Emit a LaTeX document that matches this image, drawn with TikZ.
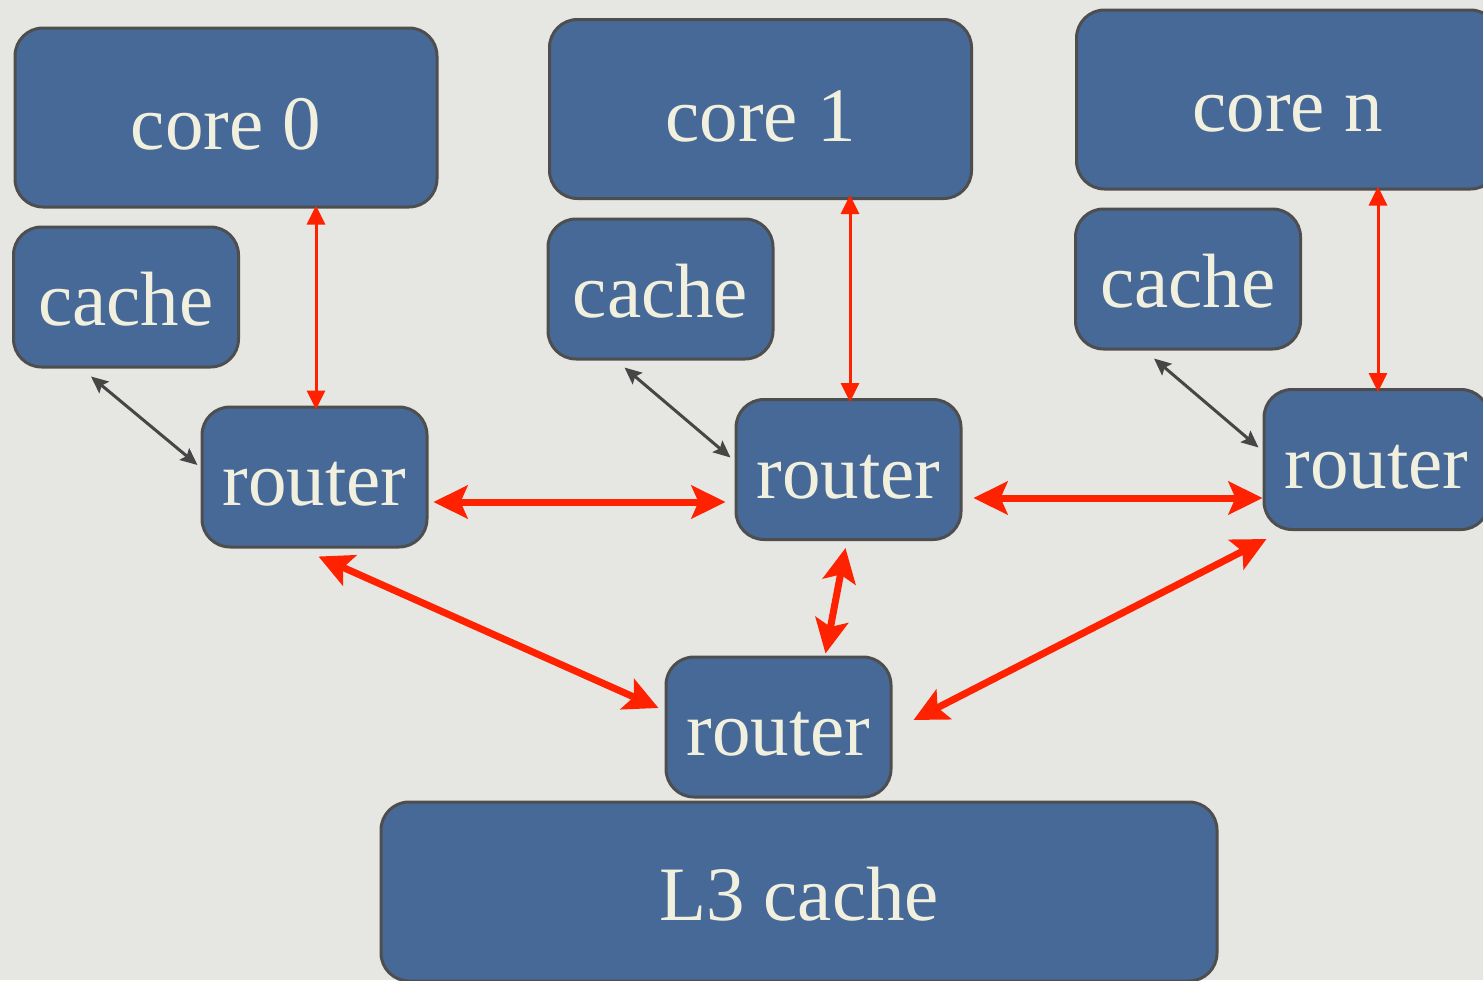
\documentclass[tikz,border=0pt]{standalone}
\usepackage{fontspec}
\setmainfont{Liberation Serif}
\usetikzlibrary{arrows.meta,calc}
\definecolor{bg}{RGB}{230,230,226}
\definecolor{boxfill}{RGB}{71,105,151}
\definecolor{boxline}{RGB}{78,78,78}
\definecolor{txt}{RGB}{241,239,222}
\definecolor{redarr}{RGB}{255,34,0}
\definecolor{greyarr}{RGB}{70,70,70}
\tikzset{
  blk/.style={draw=boxline, line width=3pt, fill=boxfill, rounded corners=28pt,
    text=txt, font=\fontsize{77}{80}\selectfont, inner sep=0pt, text depth=0pt},
  big/.style={blk, minimum width=422pt, minimum height=179pt, text height=64pt},
  small/.style={blk, minimum width=225pt, minimum height=140pt, text height=57pt},
  thinred/.style={draw=redarr, line width=3pt,
    {Triangle[length=19pt,width=18pt]}-{Triangle[length=19pt,width=18pt]}},
  thickred/.style={draw=redarr, line width=7pt,
    {Stealth[length=34pt,width=33pt,inset=7pt]}-{Stealth[length=34pt,width=33pt,inset=7pt]}},
  greylink/.style={draw=greyarr, line width=3pt,
    {Stealth[length=17pt,width=15pt,inset=3pt]}-{Stealth[length=17pt,width=15pt,inset=3pt]}}
}
\begin{document}
\begin{tikzpicture}[x=1pt,y=-1pt]
\useasboundingbox (0,0) rectangle (1483,980);
\fill[bg] (0,0) rectangle (1483,980);

\node[big] (core0) at (226,117.5) {core 0};
\node[big] (core1) at (760.5,109) {core 1};
\node[big] (coren) at (1287.5,99.5) {core n};

\node[small] (cache0) at (126,297) {cache};
\node[small] (cache1) at (660.5,289) {cache};
\node[small] (cachen) at (1188,279) {cache};

\node[small] (r0) at (314.5,477) {router};
\node[small] (r1) at (848.5,469.5) {router};
\node[small] (rn) at (1376.5,459.5) {router};
\node[small] (rb) at (778.5,727) {router};

\node[big, minimum width=836pt, text height=57pt] (l3) at (799,891.5) {L3 cache};

% core <-> router
\draw[thinred] ([xshift=1.5pt,yshift=3pt]core0.south -| r0.north) -- ([xshift=1.5pt,yshift=-4pt]r0.north);
\draw[thinred] ([xshift=1.5pt,yshift=5pt]core1.south -| r1.north) -- ([xshift=1.5pt,yshift=-4pt]r1.north);
\draw[thinred] ([xshift=1.5pt,yshift=4pt]coren.south -| rn.north) -- ([xshift=1.5pt,yshift=-4pt]rn.north);

% cache <-> router
\draw[greylink] ($(cache0.south west)+(79,8)$) -- ($(r0.west)+(-3,-12)$);
\draw[greylink] ($(cache1.south west)+(78,7)$) -- ($(r1.west)+(-4,-12)$);
\draw[greylink] ($(cachen.south west)+(80,8)$) -- ($(rn.west)+(-4,-12)$);

% router <-> router
\draw[thickred] ($(r0.east)+(5,25)$) -- ($(r1.west)+(-9,32.5)$);
\draw[thickred] ($(r1.east)+(11,28.5)$) -- ($(rn.west)+(0,38.5)$);

% routers <-> bottom router
\draw[thickred] ($(r0.south)+(4,8)$) -- ($(rb.west)+(-6,-19)$);
\draw[thickred] ($(r1.south)+(-3,7)$) -- ($(rb.north)+(47,-2)$);
\draw[thickred] ($(rn.south west)+(4,8)$) -- ($(rb.east)+(21,-7)$);
\end{tikzpicture}
\end{document}
